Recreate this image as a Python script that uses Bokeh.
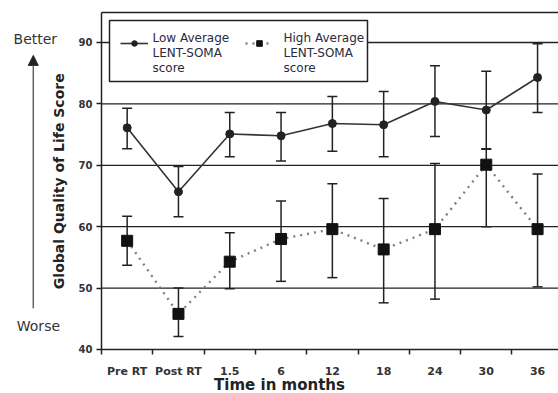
import math
from bokeh.plotting import figure
from bokeh.models import (ColumnDataSource, FixedTicker, Whisker, TeeHead, Label,
                          Arrow, NormalHead, Legend, LegendItem, LinearAxis, Range1d,
                          BoxAnnotation)
from bokeh.embed import file_html
from bokeh.resources import INLINE

categories = ["Pre RT", "Post RT", "1.5", "6", "12", "18", "24", "30", "36"]
low_mean = [76.1, 65.7, 75.1, 74.8, 76.8, 76.6, 80.4, 79.0, 84.3]
low_upper = [79.3, 69.8, 78.6, 78.6, 81.2, 82.0, 86.2, 85.3, 89.8]
low_lower = [72.7, 61.6, 71.4, 70.7, 72.3, 71.4, 74.7, 72.7, 78.6]
high_mean = [57.7, 45.8, 54.3, 58.0, 59.6, 56.3, 59.6, 70.1, 59.6]
high_upper = [61.7, 50.0, 59.0, 64.2, 67.0, 64.6, 70.3, 72.6, 68.6]
high_lower = [53.7, 42.1, 49.9, 51.1, 51.7, 47.6, 48.2, 60.0, 50.2]
y_ticks = [40, 50, 60, 70, 80, 90]
grid_values = [50, 60, 70, 80, 90]
legend_low_lines = ["Low Average", "LENT-SOMA", "score"]
legend_high_lines = ["High Average", "LENT-SOMA", "score"]

W, H = 558, 393
X0, X1 = -1.969, 8.908
Y0, Y1 = 32.83, 96.84
Y_MIN, Y_TOP = 40, 94.9
X_END = 8.9


def px2x(px):
    return X0 + px / W * (X1 - X0)


def px2y(py):
    return Y1 - py / H * (Y1 - Y0)


xc = [i + 0.5 for i in range(len(categories))]
low_src = ColumnDataSource(dict(x=xc, y=low_mean, upper=low_upper, lower=low_lower))
high_src = ColumnDataSource(dict(x=xc, y=high_mean, upper=high_upper, lower=high_lower))

INK = "#222222"
FONT = "DejaVu Sans"

p = figure(width=W, height=H, output_backend="svg", toolbar_location=None,
           x_axis_location=None, y_axis_location=None,
           x_range=Range1d(X0, X1), y_range=Range1d(Y0, Y1))
p.min_border = 0
p.min_border_left = 0
p.min_border_right = 0
p.min_border_top = 0
p.min_border_bottom = 0
p.outline_line_color = None
p.xgrid.visible = False
p.ygrid.visible = False

# grid lines and top border (limited to the plotting box)
n = len(grid_values)
p.segment(x0=[0] * n, x1=[X_END] * n, y0=grid_values, y1=grid_values,
          line_color=INK, line_width=1.3)
p.segment(x0=[0], x1=[X_END], y0=[Y_TOP], y1=[Y_TOP], line_color=INK, line_width=1.5)

# x axis
xaxis = LinearAxis(fixed_location=Y_MIN, bounds=(0, X_END))
xaxis.ticker = FixedTicker(ticks=xc, minor_ticks=list(range(len(categories))))
xaxis.major_label_overrides = {x: c for x, c in zip(xc, categories)}
xaxis.major_tick_out = 0
xaxis.major_tick_in = 0
xaxis.minor_tick_out = 5
xaxis.minor_tick_in = 0
xaxis.minor_tick_line_color = INK
xaxis.minor_tick_line_width = 1.5
xaxis.axis_line_color = INK
xaxis.axis_line_width = 1.5
xaxis.major_label_standoff = 11
xaxis.major_label_text_font = FONT
xaxis.major_label_text_font_size = "11px"
xaxis.major_label_text_font_style = "bold"
xaxis.major_label_text_color = "#333333"
p.add_layout(xaxis, "below")

# y axis
yaxis = LinearAxis(fixed_location=0, bounds=(Y_MIN, Y_TOP))
yaxis.ticker = FixedTicker(ticks=y_ticks)
yaxis.major_tick_out = 5
yaxis.major_tick_in = 0
yaxis.minor_tick_out = 0
yaxis.major_tick_line_color = INK
yaxis.major_tick_line_width = 1.5
yaxis.axis_line_color = INK
yaxis.axis_line_width = 1.5
yaxis.major_label_standoff = 4
yaxis.major_label_text_font = FONT
yaxis.major_label_text_font_size = "10px"
yaxis.major_label_text_font_style = "bold"
yaxis.major_label_text_color = "#333333"
p.add_layout(yaxis, "left")

# error bars
for src in (low_src, high_src):
    p.add_layout(Whisker(source=src, base="x", upper="upper", lower="lower",
                         line_color=INK, line_width=1.5,
                         upper_head=TeeHead(size=10, line_color=INK, line_width=1.5),
                         lower_head=TeeHead(size=10, line_color=INK, line_width=1.5)))

# series
low_line = p.line("x", "y", source=low_src, line_color="#333333", line_width=1.6)
low_pts = p.scatter("x", "y", source=low_src, marker="circle", size=8,
                    fill_color=INK, line_color=INK)
high_line = p.line("x", "y", source=high_src, line_color="#808080", line_width=2.4,
                   line_dash="2 5")
high_pts = p.scatter("x", "y", source=high_src, marker="square", size=11,
                     fill_color="#111111", line_color="#111111")

# legend: framed box, glyph samples from Bokeh's Legend, left-aligned text lines
p.add_layout(BoxAnnotation(left=px2x(109), right=px2x(367), top=px2y(20), bottom=px2y(81),
                           fill_color="white", fill_alpha=1.0,
                           line_color=INK, line_width=1.5, line_alpha=1.0))
legend = Legend(items=[
    LegendItem(label=" ", renderers=[low_line, low_pts]),
    LegendItem(label=" ", renderers=[high_line, high_pts]),
], location=(120, H - 50), orientation="horizontal")
legend.border_line_color = None
legend.background_fill_alpha = 0
legend.label_text_font_size = "12px"
legend.glyph_width = 28
legend.glyph_height = 14
legend.label_standoff = 0
legend.label_width = 0
legend.padding = 0
legend.margin = 0
legend.spacing = 97
legend.item_background_fill_alpha = 0
p.add_layout(legend, "center")

for lines, left_px in ((legend_low_lines, 152), (legend_high_lines, 283)):
    for k, t in enumerate(lines):
        p.add_layout(Label(x=px2x(left_px), y=px2y(37 + 15 * k), text=t,
                           text_font=FONT, text_font_size="12px", text_color="#2a2a40",
                           text_align="left", text_baseline="middle"))

# titles and side annotations
p.add_layout(Label(x=-0.82, y=67.4, text="Global Quality of Life Score", angle=math.pi / 2,
                   text_font=FONT, text_font_size="14px", text_font_style="bold",
                   text_color=INK, text_align="center", text_baseline="middle"))
p.add_layout(Label(x=3.47, y=34.2, text="Time in months", text_font=FONT,
                   text_font_size="15px", text_font_style="bold", text_color=INK,
                   text_align="center", text_baseline="middle"))
p.add_layout(Label(x=-1.29, y=90.65, text="Better", text_font=FONT, text_font_size="14px",
                   text_color="#333333", text_align="center", text_baseline="middle"))
p.add_layout(Label(x=-1.23, y=43.9, text="Worse", text_font=FONT, text_font_size="14px",
                   text_color="#333333", text_align="center", text_baseline="middle"))
p.add_layout(Arrow(x_start=-1.33, y_start=46.7, x_end=-1.33, y_end=87.9,
                   line_color="#666666", line_width=1.5,
                   end=NormalHead(size=10, fill_color="#222222", line_color="#222222")))

open("out.html", "w").write(file_html(p, INLINE))
